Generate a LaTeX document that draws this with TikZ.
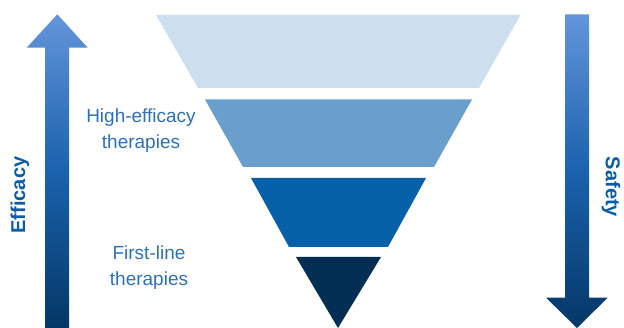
\documentclass[tikz,border=0pt]{standalone}
\usepackage{fontspec}
\setmainfont{Liberation Sans}
\definecolor{tierA}{HTML}{CDDEEE}
\definecolor{tierB}{HTML}{6A9FCB}
\definecolor{tierC}{HTML}{0560A8}
\definecolor{tierD}{HTML}{032E53}
\definecolor{labelblue}{HTML}{2E71B6}
\definecolor{axisblue}{HTML}{0B5BA5}
\definecolor{arrowtop}{HTML}{6395DA}
\definecolor{arrowmid}{HTML}{1B62AD}
\definecolor{arrowbot}{HTML}{043766}
\begin{document}
\begin{tikzpicture}[x=1pt,y=-1pt,
  tier/.style={draw=none},
  bigarrow/.style={top color=arrowtop,bottom color=arrowbot,middle color=arrowmid,draw=none},
  tierlabel/.style={text=labelblue,font=\fontsize{19}{26}\selectfont,align=center,inner sep=0pt},
  axislabel/.style={text=axisblue,font=\fontsize{20}{24}\selectfont\bfseries,inner sep=0pt}]
\useasboundingbox (0,0) rectangle (624,328);

% funnel tiers, widest at the top
\fill[tier,tierA] (156,15) -- (520.5,15) -- (479,88) -- (198,88) -- cycle;
\fill[tier,tierB] (205,99.5) -- (472,99.5) -- (434,167) -- (243,167) -- cycle;
\fill[tier,tierC] (251,178) -- (426,178) -- (388,247) -- (289,247) -- cycle;
\fill[tier,tierD] (296,257) -- (381,257) -- (338,328) -- cycle;

% upward arrow (efficacy)
\shade[bigarrow] (45,328) -- (45,47.7) -- (26.7,47.7) -- (57.3,14.3)
  -- (87.7,47.7) -- (69,47.7) -- (69,328) -- cycle;
% downward arrow (safety)
\shade[bigarrow] (565,14.3) -- (589,14.3) -- (589,297.7) -- (607.7,297.7)
  -- (577,328) -- (546,297.7) -- (565,297.7) -- cycle;

\node[axislabel,rotate=90] (efficacy) at (20,195) {Efficacy};
\node[axislabel,rotate=-90] (safety) at (611,187) {Safety};

\node[tierlabel] (high) at (141,131) {High-efficacy\\therapies};
\node[tierlabel] (first) at (149,268) {First-line\\therapies};
\end{tikzpicture}
\end{document}
